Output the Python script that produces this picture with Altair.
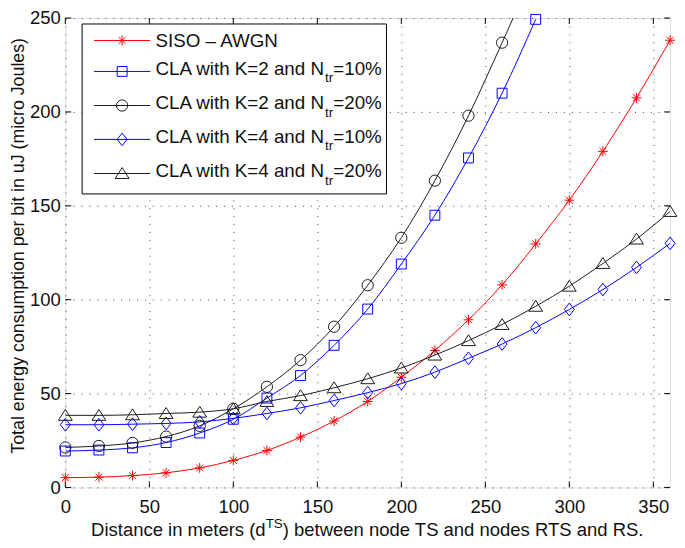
import altair as alt
import pandas as pd

# ---------------- data ----------------
x_all = list(range(0, 361, 20))
x_k2 = list(range(0, 281, 20))

siso_awgn = [5.2, 5.5, 6.3, 7.8, 10.4, 14.4, 19.7, 26.8, 35.4, 45.8, 58.7, 73.0,
             89.3, 107.9, 129.7, 153.0, 179.0, 207.5, 238.2]
cla_k2_10 = [19.4, 19.9, 21.1, 23.9, 29.0, 36.3, 47.6, 59.6, 75.7, 95.0, 119.0,
             145.0, 175.5, 210.0, 249.3]
cla_k2_20 = [21.3, 22.1, 23.7, 27.1, 32.8, 41.9, 53.6, 67.8, 85.6, 107.7, 133.0,
             163.4, 198.0, 236.9, 277.0]
cla_k4_10 = [33.4, 33.4, 33.7, 34.1, 34.9, 36.8, 39.4, 42.4, 46.3, 50.5, 55.3, 61.4,
             68.8, 76.4, 85.1, 94.8, 105.4, 117.2, 130.0]
cla_k4_20 = [38.4, 38.4, 38.7, 39.4, 40.1, 41.9, 45.8, 48.9, 53.1, 57.9, 63.6, 70.5,
             78.2, 86.8, 96.5, 107.2, 119.3, 132.3, 147.0]

x_ticks = [0, 50, 100, 150, 200, 250, 300, 350]
y_ticks = [0, 50, 100, 150, 200, 250]

legend_main = ["SISO \u2013 AWGN", "CLA with K=2 and N", "CLA with K=2 and N",
               "CLA with K=4 and N", "CLA with K=4 and N"]
legend_sub = ["", "tr", "tr", "tr", "tr"]
legend_tail = ["", "=10%", "=20%", "=10%", "=20%"]

x_title_a = "Distance in meters (d"
x_title_sup = "TS"
x_title_b = ") between node TS and nodes RTS and RS."
y_title = "Total energy consumption per bit in uJ (micro Joules)"

# ---------------- style ----------------
W, H = 612, 475
PAD_L, PAD_T, PAD_R, PAD_B = 58, 7, 7, 50
FONT = "Liberation Sans"
FS = 18.7
FS_SMALL = 13.5
RED, BLUE, BLACK = "#ff0000", "#0000ff", "#1a1a1a"

STAR = "M-1,0L1,0M0,-1L0,1M-0.7,-0.7L0.7,0.7M-0.7,0.7L0.7,-0.7"
SQUARE = "M-1,-1L1,-1L1,1L-1,1Z"
CIRCLE = "circle"
DIAMOND = "M0,-1L0.78,0L0,1L-0.78,0Z"
TRIANGLE = "M0,-0.85L1,0.72L-1,0.72Z"

styles = [
    (x_all, siso_awgn, RED, STAR, 100),
    (x_k2, cla_k2_10, BLUE, SQUARE, 100),
    (x_k2, cla_k2_20, BLACK, CIRCLE, 130),
    (x_all, cla_k4_10, BLUE, DIAMOND, 165),
    (x_all, cla_k4_20, BLACK, TRIANGLE, 196),
]

# Arial/Helvetica widths (per 1000 em)
WID = {" ": 278, "(": 333, ")": 333, ".": 278, "%": 889, "=": 584, "\u2013": 556}
for c in "0123456789":
    WID[c] = 556
WID.update(dict(zip("ABCDEFGHIJKLMNOPQRSTUVWXYZ",
                    [667, 667, 722, 722, 667, 611, 778, 722, 278, 500, 667, 556, 833,
                     722, 778, 667, 778, 722, 667, 611, 722, 667, 944, 667, 667, 611])))
WID.update(dict(zip("abcdefghijklmnopqrstuvwxyz",
                    [556, 556, 500, 556, 556, 278, 556, 556, 222, 222, 500, 222, 833,
                     556, 556, 556, 556, 333, 500, 278, 556, 500, 722, 500, 500, 500])))


def tw(s, size):
    return sum(WID.get(c, 556) for c in s) * size / 1000.0


xscale = alt.Scale(domain=[0, 360], nice=False, zero=False)
yscale = alt.Scale(domain=[0, 250], nice=False, zero=False)

xaxis = alt.Axis(values=x_ticks, title=None, grid=True, gridDash=[1, 7],
                 gridColor="#444", gridWidth=1, ticks=False, domain=False,
                 labelFont=FONT, labelFontSize=FS, labelColor="#111",
                 labelPadding=10, labelFlush=False, format="d")
yaxis = alt.Axis(values=y_ticks, title=None, grid=True, gridDash=[1, 7],
                 gridColor="#444", gridWidth=1, ticks=False, domain=False,
                 labelFont=FONT, labelFontSize=FS, labelColor="#111",
                 labelPadding=5, labelFlush=False, format="d")

X = lambda f: alt.X(f, type="quantitative", scale=xscale, axis=xaxis)
Y = lambda f: alt.Y(f, type="quantitative", scale=yscale, axis=yaxis)

layers = []

# inward ticks on all four sides
xt = alt.Chart(pd.DataFrame({"t": x_ticks}))
yt = alt.Chart(pd.DataFrame({"t": y_ticks}))
TL = 6
layers.append(xt.mark_rule(color="black", strokeWidth=1).encode(
    x=X("t"), y=alt.value(H), y2=alt.value(H - TL)))
layers.append(xt.mark_rule(color="black", strokeWidth=1).encode(
    x=X("t"), y=alt.value(0), y2=alt.value(TL)))
layers.append(yt.mark_rule(color="black", strokeWidth=1).encode(
    y=Y("t"), x=alt.value(0), x2=alt.value(TL)))
layers.append(yt.mark_rule(color="black", strokeWidth=1).encode(
    y=Y("t"), x=alt.value(W), x2=alt.value(W - TL)))

# data series
for xs, ys, color, shape, size in styles:
    base = alt.Chart(pd.DataFrame({"x": xs, "y": ys}))
    layers.append(base.mark_line(color=color, strokeWidth=1, interpolate="monotone",
                                 clip=True).encode(x=X("x"), y=Y("y")))
    layers.append(base.transform_filter("datum.y <= 250").mark_point(
        shape=shape, size=size, filled=False, color=color,
        strokeWidth=1, opacity=1).encode(x=X("x"), y=Y("y")))

one = pd.DataFrame({"a": [0]})

# legend (positions in plot pixels)
LX0, LX1, LY0, LY1 = 17, 325, 6, 178
layers.append(alt.Chart(one).mark_rect(fill="white", stroke="black", strokeWidth=1).encode(
    x=alt.value(LX0), x2=alt.value(LX1), y=alt.value(LY0), y2=alt.value(LY1)))
row_y = [22.7, 54.0, 88.5, 122.8, 157.3]
SX0, SX1, SM, TX = 29, 86, 57.5, 91.3
for i, (xs, ys, color, shape, size) in enumerate(styles):
    ry = row_y[i]
    layers.append(alt.Chart(one).mark_rule(color=color, strokeWidth=1).encode(
        x=alt.value(SX0), x2=alt.value(SX1), y=alt.value(ry)))
    layers.append(alt.Chart(one).mark_point(shape=shape, size=size, filled=False,
                                            color=color, strokeWidth=1, opacity=1).encode(
        x=alt.value(SM), y=alt.value(ry)))
    base_y = ry + (6.7 if legend_sub[i] == "" else 3.2)
    layers.append(alt.Chart(one).mark_text(text=legend_main[i], font=FONT, fontSize=19,
                                           align="left", baseline="alphabetic",
                                           color="#111").encode(
        x=alt.value(TX), y=alt.value(base_y)))
    if legend_sub[i]:
        sx = TX + tw(legend_main[i], 19)
        layers.append(alt.Chart(one).mark_text(text=legend_sub[i], font=FONT,
                                               fontSize=FS_SMALL, align="left",
                                               baseline="alphabetic", color="#111").encode(
            x=alt.value(sx), y=alt.value(base_y + 8)))
        tx2 = sx + tw(legend_sub[i], FS_SMALL)
        layers.append(alt.Chart(one).mark_text(text=legend_tail[i], font=FONT,
                                               fontSize=19, align="left",
                                               baseline="alphabetic", color="#111").encode(
            x=alt.value(tx2), y=alt.value(base_y)))

# x title with superscript
wa = tw(x_title_a, FS)
ws = tw(x_title_sup, FS_SMALL)
wb = tw(x_title_b, FS)
x0 = W / 2 - (wa + ws + wb) / 2
TY = H + 49
layers.append(alt.Chart(one).mark_text(text=x_title_a, font=FONT, fontSize=FS,
                                       align="left", baseline="alphabetic",
                                       color="#111").encode(
    x=alt.value(x0), y=alt.value(TY)))
layers.append(alt.Chart(one).mark_text(text=x_title_sup, font=FONT, fontSize=FS_SMALL,
                                       align="left", baseline="alphabetic",
                                       color="#111").encode(
    x=alt.value(x0 + wa), y=alt.value(TY - 8)))
layers.append(alt.Chart(one).mark_text(text=x_title_b, font=FONT, fontSize=FS,
                                       align="left", baseline="alphabetic",
                                       color="#111").encode(
    x=alt.value(x0 + wa + ws), y=alt.value(TY)))

# y title
layers.append(alt.Chart(one).mark_text(text=y_title, font=FONT, fontSize=18, angle=270,
                                       align="center", baseline="middle",
                                       color="#111").encode(
    x=alt.value(-47), y=alt.value(H / 2 - 7)))

chart = alt.layer(*layers).properties(
    width=W, height=H,
    autosize=alt.AutoSizeParams(type="none"),
    padding={"left": PAD_L, "top": PAD_T, "right": PAD_R, "bottom": PAD_B},
).configure_view(stroke="black", strokeWidth=1).configure(background="white")

chart.save("out.html", embed_options={"renderer": "svg", "actions": False})
